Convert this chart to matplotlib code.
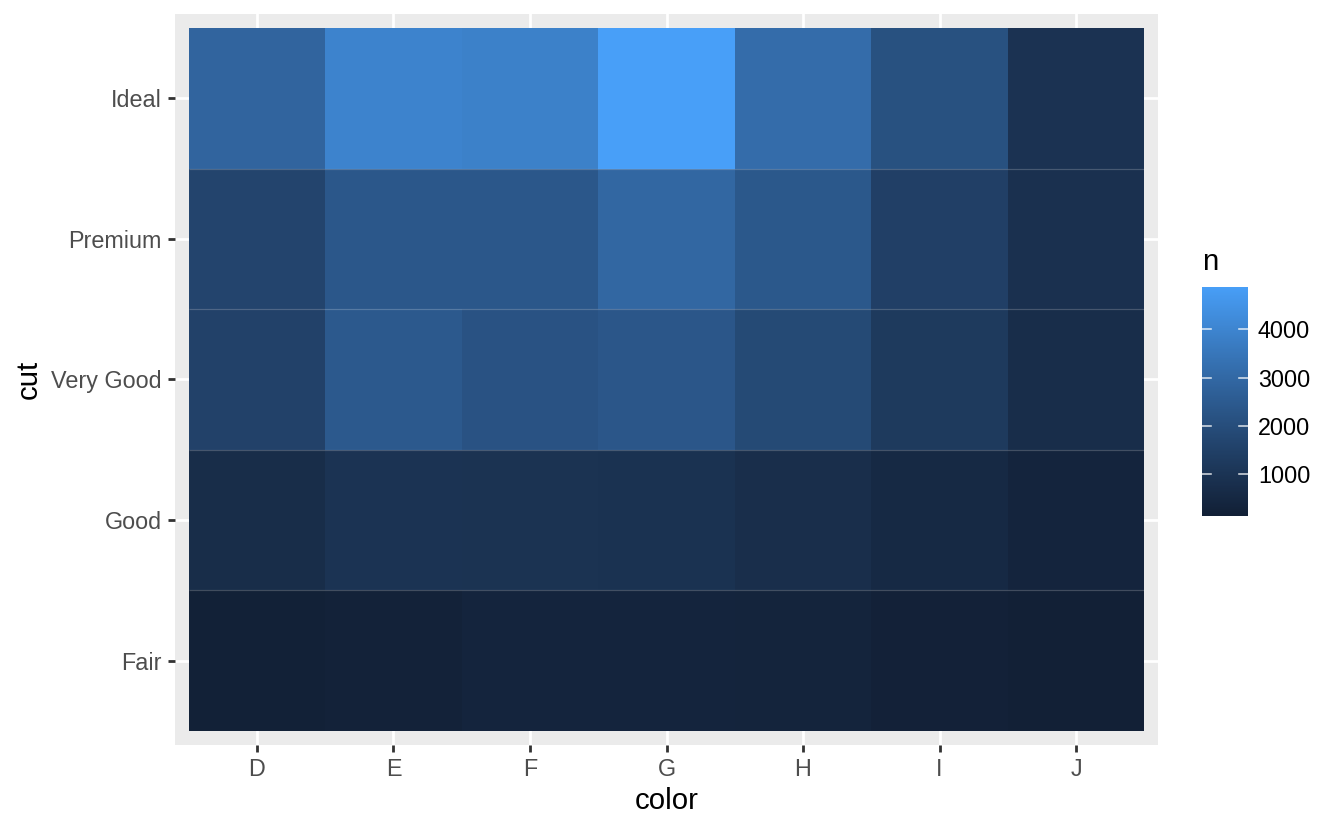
import matplotlib
matplotlib.use("Agg")
import matplotlib.pyplot as plt
import numpy as np
from matplotlib.colors import ListedColormap, Normalize

plt.rcParams['font.family'] = ['Liberation Sans', 'DejaVu Sans']

colors = ["D", "E", "F", "G", "H", "I", "J"]
cuts = ["Fair", "Good", "Very Good", "Premium", "Ideal"]
# counts, rows follow cuts, columns follow colors
n_fair = [163, 224, 312, 314, 303, 175, 119]
n_good = [662, 933, 909, 871, 702, 522, 307]
n_verygood = [1513, 2400, 2164, 2299, 1824, 1204, 678]
n_premium = [1603, 2337, 2331, 2924, 2360, 1428, 808]
n_ideal = [2834, 3903, 3826, 4884, 3115, 2093, 896]
legend_ticks = [1000, 2000, 3000, 4000]


# gradient dark -> light blue, interpolated in Lab
def srgb_to_lab(rgb):
    c = np.asarray(rgb, float)
    lin = np.where(c <= 0.04045, c / 12.92, ((c + 0.055) / 1.055) ** 2.4)
    M = np.array([[0.4124, 0.3576, 0.1805],
                  [0.2126, 0.7152, 0.0722],
                  [0.0193, 0.1192, 0.9505]])
    xyz = M @ lin / np.array([0.95047, 1.0, 1.08883])
    f = np.where(xyz > 0.008856, np.cbrt(xyz), 7.787 * xyz + 16 / 116)
    return np.array([116 * f[1] - 16, 500 * (f[0] - f[1]), 200 * (f[1] - f[2])])


def lab_to_srgb(lab):
    L, a, b = lab
    fy = (L + 16) / 116
    fx = fy + a / 500
    fz = fy - b / 200
    f = np.array([fx, fy, fz])
    xyz = np.where(f ** 3 > 0.008856, f ** 3, (f - 16 / 116) / 7.787)
    xyz = xyz * np.array([0.95047, 1.0, 1.08883])
    Minv = np.array([[3.2406, -1.5372, -0.4986],
                     [-0.9689, 1.8758, 0.0415],
                     [0.0557, -0.2040, 1.0570]])
    lin = Minv @ xyz
    c = np.where(lin <= 0.0031308, 12.92 * lin, 1.055 * np.clip(lin, 0, None) ** (1 / 2.4) - 0.055)
    return np.clip(c, 0, 1)


lo = srgb_to_lab(np.array([0x12, 0x20, 0x36]) / 255)
hi = srgb_to_lab(np.array([0x48, 0x9F, 0xF8]) / 255)
cmap = ListedColormap([lab_to_srgb(lo + t * (hi - lo)) for t in np.linspace(0, 1, 256)])

Z = np.array([n_fair, n_good, n_verygood, n_premium, n_ideal])
norm = Normalize(vmin=Z.min(), vmax=Z.max())

fig = plt.figure(figsize=(1344 / 144, 830 / 144), dpi=144)
ax = fig.add_axes([175 / 1344, 1 - 745 / 830, 983 / 1344, 731 / 830])
ax.set_facecolor("#EBEBEB")
for s in ax.spines.values():
    s.set_visible(False)

x = np.arange(len(colors))
y = np.arange(len(cuts))
ax.set_xticks(x)
ax.set_yticks(y)
ax.grid(True, color="white", linewidth=1.4)
ax.set_axisbelow(True)

edges_x = np.arange(len(colors) + 1) - 0.5
edges_y = np.arange(len(cuts) + 1) - 0.5
ax.pcolormesh(edges_x, edges_y, Z, cmap=cmap, norm=norm, zorder=2)
ax.hlines(edges_y[1:-1], -0.5, len(colors) - 0.5, color="white", alpha=0.2, lw=0.6, zorder=3)

ax.set_xlim(-0.6, len(colors) - 0.4)
ax.set_ylim(-0.6, len(cuts) - 0.4)
ax.set_xticklabels(colors)
ax.set_yticklabels(cuts)
ax.tick_params(length=3.7, width=1.4, color="#333333", labelcolor="#4D4D4D",
               labelsize=11.7, pad=3)
ax.set_xlabel("color", fontsize=14.7, labelpad=3)
ax.set_ylabel("cut", fontsize=14.7, labelpad=4)

cax = fig.add_axes([1202 / 1344, 1 - 516 / 830, 46 / 1344, 229 / 830])
grad = np.linspace(Z.min(), Z.max(), 300).reshape(-1, 1)
cax.imshow(grad, aspect="auto", origin="lower", cmap=cmap, norm=norm,
           extent=[0, 1, Z.min(), Z.max()])
for t in legend_ticks:
    cax.plot([0, 0.2], [t, t], color="white", lw=0.8, alpha=0.8)
    cax.plot([0.8, 1], [t, t], color="white", lw=0.8, alpha=0.8)
cax.set_xlim(0, 1)
cax.set_ylim(Z.min(), Z.max())
cax.set_xticks([])
cax.yaxis.tick_right()
cax.set_yticks(legend_ticks)
cax.set_yticklabels([str(t) for t in legend_ticks])
cax.tick_params(axis="y", length=0, labelsize=11.7, pad=5, labelcolor="black")
for s in cax.spines.values():
    s.set_visible(False)
fig.text(1202 / 1344, 1 - 262 / 830, "n", fontsize=14.7, ha="left", va="center")

fig.savefig("out.png", dpi=144)
